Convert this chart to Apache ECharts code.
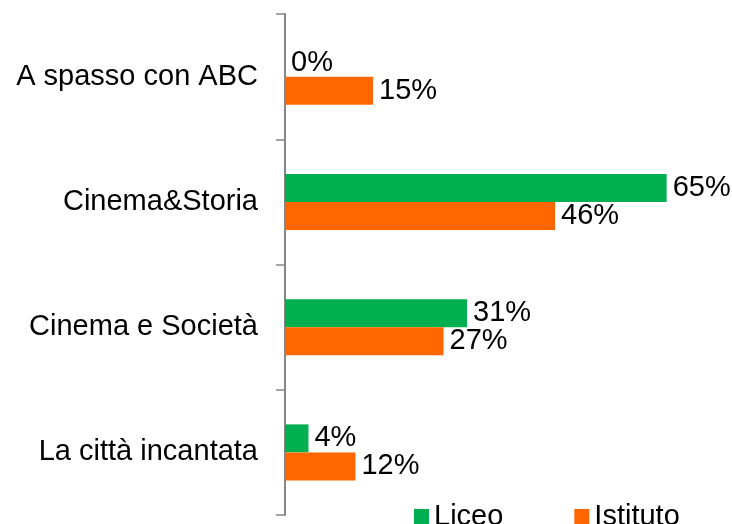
<!DOCTYPE html>
<html>
<head>
<meta charset="utf-8">
<script src="https://cdn.jsdelivr.net/npm/echarts@6/dist/echarts.min.js"></script>
<style>
  html, body { margin: 0; padding: 0; background: #fff; }
  #main { width: 732px; height: 524px; }
</style>
</head>
<body>
<div id="main"></div>
<script>
var categories = ['A spasso con ABC', 'Cinema&Storia', 'Cinema e Società', 'La città incantata']
var liceo = [0, 65, 31, 4]
var istituto = [15, 46, 27, 12]

var chartDom = document.getElementById('main')
var myChart = echarts.init(chartDom)
var option
var font = '"Liberation Sans", Arial, sans-serif'

var label = {
  show: true,
  position: 'right',
  distance: 6,
  fontSize: 29,
  fontFamily: font,
  color: '#000',
  formatter: '{c}%'
}

option = {
  animation: false,
  textStyle: { fontFamily: font },
  grid: {
    left: 285,
    right: 36,
    top: 14,
    bottom: 9
  },
  legend: {
    left: 414,
    top: 502,
    padding: 0,
    itemWidth: 15,
    itemHeight: 15,
    itemGap: 71,
    icon: 'rect',
    textStyle: { fontSize: 29, color: '#000', fontFamily: font },
    data: ['Liceo', 'Istituto']
  },
  xAxis: {
    type: 'value',
    min: 0,
    max: 70,
    show: false
  },
  yAxis: {
    type: 'category',
    inverse: true,
    data: categories,
    axisLine: { show: true, lineStyle: { color: '#868686', width: 2 } },
    axisTick: { show: true, inside: false, length: 9, lineStyle: { color: '#868686', width: 1.5 } },
    axisLabel: {
      fontSize: 29,
      color: '#000',
      fontFamily: font,
      margin: 27
    }
  },
  series: [
    {
      name: 'Liceo',
      type: 'bar',
      data: liceo,
      barWidth: 28,
      barGap: '0%',
      itemStyle: { color: '#00B050' },
      label: label
    },
    {
      name: 'Istituto',
      type: 'bar',
      data: istituto,
      barWidth: 28,
      itemStyle: { color: '#FF6600' },
      label: label
    }
  ]
}

option && myChart.setOption(option)
</script>
</body>
</html>
